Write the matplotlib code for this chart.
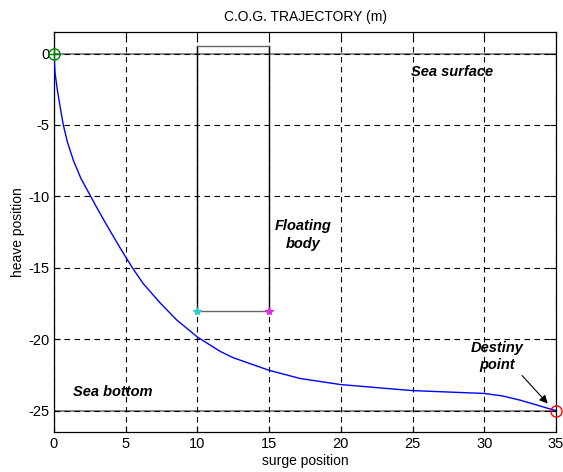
import numpy as np
import matplotlib.pyplot as plt

plt.rcParams.update({
    "font.family": ["Liberation Sans", "DejaVu Sans"],
    "font.size": 10.5,
    "axes.unicode_minus": False,
    "xtick.direction": "in",
    "ytick.direction": "in",
})

# ----------------------------
# Data
# ----------------------------
surge = [0, 0.07, 0.23, 0.42, 0.65, 0.93, 1.35, 1.88, 2.56, 2.93, 3.44, 3.9,
         4.6, 5.0, 5.53, 6.23, 7.39, 8.55, 10.0, 11.58, 12.5, 15.0, 17.15,
         20.0, 21.8, 22.7, 25.0, 27.5, 30.0, 31.3, 32.5, 33.5, 34.36, 35.0]
heave = [0, -1.33, -2.52, -3.69, -5.0, -6.18, -7.48, -8.75, -10.0, -10.69,
         -11.6, -12.4, -13.59, -14.25, -15.1, -16.12, -17.45, -18.65, -19.85,
         -20.85, -21.3, -22.18, -22.75, -23.18, -23.33, -23.41, -23.6, -23.7,
         -23.8, -23.98, -24.27, -24.56, -24.82, -25.0]

sea_surface = 0.0
sea_bottom = -25.0
body_x = [10, 15]
body_bottom = -18.0
body_top = 0.5
start_pt = (0, 0)
end_pt = (35, -25)

xticks = [0, 5, 10, 15, 20, 25, 30, 35]
yticks = [0, -5, -10, -15, -20, -25]

fig = plt.figure(figsize=(5.63, 4.72), dpi=100)
ax = fig.add_axes([0.0959, 0.0847, 0.8917, 0.8473])

# sea levels
ax.plot([0, 35], [sea_surface, sea_surface], color="0.45", lw=1.2, zorder=2)
ax.plot([0, 35], [sea_bottom, sea_bottom], color="0.45", lw=1.2, zorder=2)

# floating body outline
ax.plot([body_x[0], body_x[0]], [body_bottom, body_top], color="black", lw=1.0, zorder=3)
ax.plot([body_x[1], body_x[1]], [body_bottom, body_top], color="black", lw=1.0, zorder=3)
ax.plot(body_x, [body_top, body_top], color="0.4", lw=1.0, zorder=3)
ax.plot(body_x, [body_bottom, body_bottom], color="0.4", lw=1.0, zorder=3)
ax.plot(body_x[0], body_bottom, marker="*", color="#33cccc", ms=6, zorder=5)
ax.plot(body_x[1], body_bottom, marker="*", color="#dd33dd", ms=6, zorder=5)

# trajectory
ax.plot(surge, heave, color="blue", lw=1.0, zorder=4)

# start / end markers
ax.plot(*start_pt, marker="o", mfc="none", mec="green", ms=8, clip_on=False, zorder=6)
ax.plot(*start_pt, marker="+", color="green", ms=8, clip_on=False, zorder=6)
ax.plot(*end_pt, marker="o", mfc="none", mec="red", ms=8, clip_on=False, zorder=6)

# annotations
txt = dict(fontweight="bold", fontstyle="italic", fontsize=10.5)
ax.text(24.9, -1.3, "Sea surface", ha="left", va="center", **txt)
ax.text(1.3, -23.7, "Sea bottom", ha="left", va="center", **txt)
ax.text(17.4, -12.7, "Floating\nbody", ha="center", va="center", linespacing=1.3, **txt)
ax.text(30.9, -21.2, "Destiny\npoint", ha="center", va="center", linespacing=1.3, **txt)
ax.annotate("", xy=(34.55, -24.65), xytext=(32.5, -22.4),
            arrowprops=dict(arrowstyle="-|>", color="black", lw=0.8, mutation_scale=12))

ax.set_xlim(0, 35)
ax.set_ylim(-26.5, 1.5)
ax.set_xticks(xticks)
ax.set_yticks(yticks)
ax.grid(True, color="black", linestyle=(0, (5, 4)), linewidth=0.8)
ax.set_axisbelow(False)
ax.tick_params(length=4, width=0.8, top=True, right=True)
for s in ax.spines.values():
    s.set_linewidth(0.9)

ax.set_title("C.O.G. TRAJECTORY (m)", fontsize=10, pad=8)
ax.set_xlabel("surge position", fontsize=10, labelpad=2)
ax.set_ylabel("heave position", fontsize=10, labelpad=2)

fig.savefig("out.png", dpi=100)
